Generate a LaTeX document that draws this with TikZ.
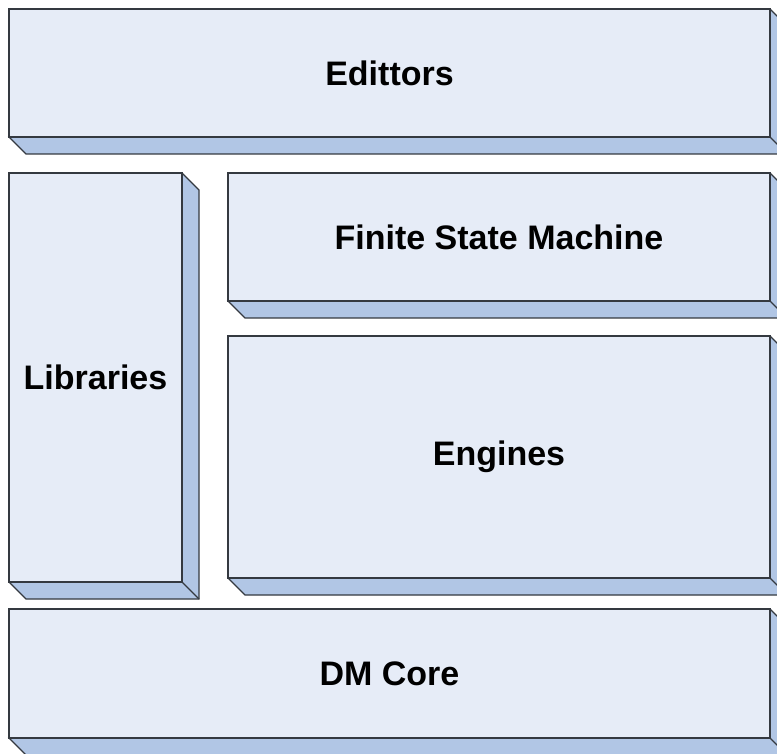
\documentclass[tikz,border=0pt]{standalone}
\usepackage{fontspec}
\setmainfont{Liberation Sans}
\begin{document}
\begin{tikzpicture}[x=1pt,y=-1pt,
  face/.style={rectangle, draw=edgegray, line width=1.2pt, fill=faceblue, inner sep=0pt, outer sep=0pt,
    anchor=north west, align=center, font=\fontsize{34}{40}\selectfont\bfseries, text=black},
  depth/.style={fill=depthblue, draw=edgegray, line width=1.2pt, line join=miter}]
\definecolor{faceblue}{HTML}{E6ECF7}
\definecolor{depthblue}{HTML}{B1C6E5}
\definecolor{edgegray}{HTML}{343940}
\useasboundingbox (0,0) rectangle (777,754);
\begin{scope}
\clip (0,0) rectangle (777,754);
% one extruded slab: name, left, top, width, height, label
\newcommand\slab[6]{%
  \draw[depth] (#2+#4,#3) -- ++(17,17) -- (#2+#4+17,#3+#5+17)
     -- (#2+17,#3+#5+17) -- (#2,#3+#5) -- cycle;
  \draw[edgegray, line width=1.2pt] (#2+#4,#3+#5) -- ++(17,17);
  \node[face, minimum width=#4pt, minimum height=#5pt] (#1) at (#2,#3) {#6};
}
\slab{editors}{9}{9}{761}{128}{Edittors}
\slab{libraries}{9}{173}{173}{409}{Libraries}
\slab{fsm}{228}{173}{542}{128}{Finite State Machine}
\slab{engines}{228}{336}{542}{242}{Engines}
\slab{dmcore}{9}{609}{761}{129}{DM Core}
\end{scope}
\end{tikzpicture}
\end{document}
